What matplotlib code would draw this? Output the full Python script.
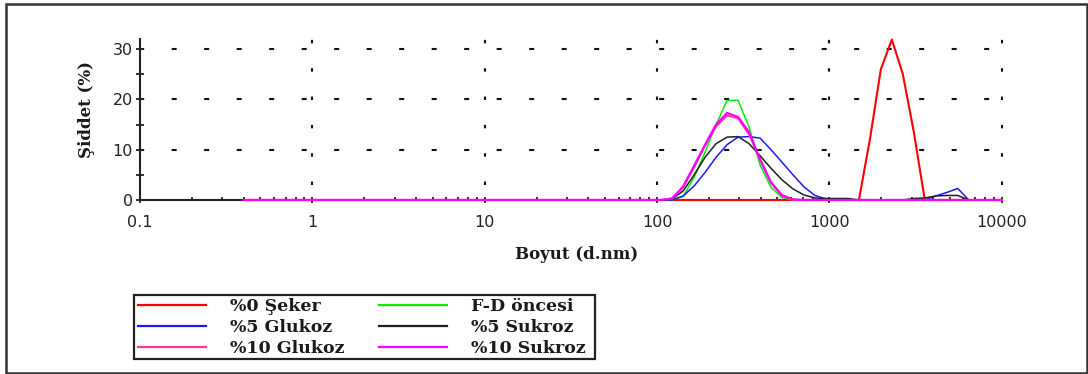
import matplotlib
matplotlib.use("Agg")
import matplotlib.pyplot as plt
from matplotlib.patches import Rectangle
from matplotlib.ticker import FixedLocator, NullFormatter

plt.rcParams['lines.scale_dashes'] = False

# Size bins (d.nm)
sizes = [0.4, 0.4632, 0.5365, 0.6213, 0.7195, 0.8332, 0.9649, 1.117, 1.294, 1.499,
         1.736, 2.01, 2.328, 2.696, 3.122, 3.615, 4.187, 4.849, 5.615, 6.503,
         7.531, 8.721, 10.1, 11.7, 13.54, 15.69, 18.17, 21.04, 24.36, 28.21,
         32.67, 37.84, 43.82, 50.75, 58.77, 68.06, 78.82, 91.28, 105.7, 122.4,
         141.8, 164.2, 190.1, 220.2, 255.0, 295.3, 342.0, 396.1, 458.7, 531.2,
         615.1, 712.4, 825.0, 955.4, 1106, 1281, 1484, 1718, 1990, 2305,
         2669, 3091, 3580, 4145, 4801, 5560, 6439, 7456, 8635, 10000]

# Intensity (%) per bin for each sample
seker_0 = [0, 0, 0, 0, 0, 0, 0, 0, 0, 0,
           0, 0, 0, 0, 0, 0, 0, 0, 0, 0,
           0, 0, 0, 0, 0, 0, 0, 0, 0, 0,
           0, 0, 0, 0, 0, 0, 0, 0, 0, 0,
           0, 0, 0, 0, 0, 0, 0, 0, 0, 0,
           0, 0, 0, 0, 0, 0, 0, 12.0, 26.0, 31.9,
           25.0, 13.5, 0, 0, 0, 0, 0, 0, 0, 0]

fd_oncesi = [0, 0, 0, 0, 0, 0, 0, 0, 0, 0,
             0, 0, 0, 0, 0, 0, 0, 0, 0, 0,
             0, 0, 0, 0, 0, 0, 0, 0, 0, 0,
             0, 0, 0, 0, 0, 0, 0, 0, 0, 0,
             0.7, 4.5, 9.5, 15.0, 19.8, 19.8, 14.5, 7.0, 2.5, 0.5,
             0, 0, 0, 0, 0, 0, 0, 0, 0, 0,
             0, 0, 0, 0, 0, 0, 0, 0, 0, 0]

glukoz_5 = [0, 0, 0, 0, 0, 0, 0, 0, 0, 0,
            0, 0, 0, 0, 0, 0, 0, 0, 0, 0,
            0, 0, 0, 0, 0, 0, 0, 0, 0, 0,
            0, 0, 0, 0, 0, 0, 0, 0, 0, 0,
            0.8, 2.8, 5.5, 8.5, 11.0, 12.5, 12.6, 12.3, 10.0, 7.5,
            5.0, 2.6, 0.9, 0.2, 0, 0, 0, 0, 0, 0,
            0, 0, 0, 0.8, 1.5, 2.3, 0, 0, 0, 0]

sukroz_5 = [0, 0, 0, 0, 0, 0, 0, 0, 0, 0,
            0, 0, 0, 0, 0, 0, 0, 0, 0, 0,
            0, 0, 0, 0, 0, 0, 0, 0, 0, 0,
            0, 0, 0, 0, 0, 0, 0, 0, 0, 0.2,
            1.8, 5.0, 8.5, 11.2, 12.5, 12.6, 11.2, 8.8, 6.3, 4.0,
            2.2, 1.0, 0.4, 0.3, 0.3, 0.3, 0, 0, 0, 0,
            0, 0.3, 0.4, 0.8, 0.9, 0.9, 0, 0, 0, 0]

glukoz_10 = [0, 0, 0, 0, 0, 0, 0, 0, 0, 0,
             0, 0, 0, 0, 0, 0, 0, 0, 0, 0,
             0, 0, 0, 0, 0, 0, 0, 0, 0, 0,
             0, 0, 0, 0, 0, 0, 0, 0, 0, 0.3,
             2.5, 6.5, 10.8, 14.6, 16.8, 16.2, 13.0, 8.2, 3.6, 1.0,
             0.1, 0, 0, 0, 0, 0, 0, 0, 0, 0,
             0, 0, 0, 0, 0, 0, 0, 0, 0, 0]

sukroz_10 = [0, 0, 0, 0, 0, 0, 0, 0, 0, 0,
             0, 0, 0, 0, 0, 0, 0, 0, 0, 0,
             0, 0, 0, 0, 0, 0, 0, 0, 0, 0,
             0, 0, 0, 0, 0, 0, 0, 0, 0, 0.3,
             2.7, 6.8, 11.0, 15.0, 17.3, 16.5, 13.5, 8.0, 3.4, 0.9,
             0.1, 0, 0, 0, 0, 0, 0, 0, 0, 0,
             0, 0, 0, 0, 0, 0, 0, 0, 0, 0]

labels = ["%0 Şeker", "F-D öncesi", "%5 Glukoz", "%5 Sukroz", "%10 Glukoz", "%10 Sukroz"]
colors = ["#ff0000", "#00ee00", "#1a1aff", "#202020", "#ff3a8c", "#ff00ff"]
widths = [1.5, 1.1, 1.1, 1.1, 1.3, 1.6]
series = [seker_0, fd_oncesi, glukoz_5, sukroz_5, glukoz_10, sukroz_10]

x_ticks = [0.1, 1, 10, 100, 1000, 10000]
x_tick_labels = ["0.1", "1", "10", "100", "1000", "10000"]
y_ticks = [0, 10, 20, 30]

W, H = 1088, 374
fig = plt.figure(figsize=(W / 100, H / 100), dpi=100)
ax = fig.add_axes([140 / W, 1 - 200 / H, (1001.7 - 140) / W, (200 - 39) / H])
ax.set_xscale('log')
ax.set_xlim(0.1, 10000)
ax.set_ylim(0, 32)

# sparse dashed grid
for yv in [10, 20, 30]:
    ax.axhline(yv, color='#111111', lw=1.5, linestyle=(24.0, (3.6, 19.8)), zorder=1)
for xv in [1, 10, 100, 1000, 10000]:
    ax.axvline(xv, color='#111111', lw=1.5, linestyle=(9.6, (2.5, 17.9)), zorder=1, clip_on=False)

handles = {}
for s, lab, c, w in zip(series, labels, colors, widths):
    ln, = ax.plot(sizes, s, color=c, lw=w, zorder=3, clip_on=False)
    handles[lab] = ln

for side in ['top', 'right']:
    ax.spines[side].set_visible(False)
for side in ['left', 'bottom']:
    ax.spines[side].set_linewidth(1.5)
    ax.spines[side].set_color('#222222')

ax.xaxis.set_major_locator(FixedLocator(x_ticks))
ax.set_xticklabels(x_tick_labels)
minor = [m * 10.0 ** e for e in range(-1, 4) for m in range(2, 10)]
ax.xaxis.set_minor_locator(FixedLocator(minor))
ax.xaxis.set_minor_formatter(NullFormatter())
ax.yaxis.set_major_locator(FixedLocator(y_ticks))
ax.yaxis.set_minor_locator(FixedLocator([5, 15, 25]))

ax.tick_params(axis='y', which='both', direction='inout', length=6, width=1.3,
               color='#222222', pad=2, labelsize=11.5, labelcolor='#222222')
ax.tick_params(axis='x', which='major', direction='inout', length=5, width=1.3,
               color='#222222', pad=8, labelsize=11.5, labelcolor='#222222')
ax.tick_params(axis='x', which='minor', direction='in', length=2.5, width=1.3,
               color='#222222')

label_font = dict(family='DejaVu Serif', weight='bold', size=12, color='#1a1a1a')
ax.set_xlabel("Boyut (d.nm)", **label_font)
ax.xaxis.set_label_coords((577 - 140) / 861.7, (200 - 246) / 161)
ax.set_ylabel("Şiddet (%)", **label_font)
ax.yaxis.set_label_coords((95 - 140) / 861.7, (200 - 109.5) / 161)

order = ["%0 Şeker", "%5 Glukoz", "%10 Glukoz", "F-D öncesi", "%5 Sukroz", "%10 Sukroz"]
leg = fig.legend([handles[k] for k in order], order, ncol=2, loc='upper left',
                 bbox_to_anchor=(138 / W, 1 - 298 / H), frameon=False,
                 borderpad=0, borderaxespad=0, handlelength=3.92, handletextpad=1.38,
                 columnspacing=2.0, labelspacing=0.24,
                 prop=dict(family='DejaVu Serif', weight='bold', size=12.5))
for t in leg.get_texts():
    t.set_color('#1a1a1a')
for lh in leg.legend_handles:
    lh.set_linewidth(1.6)

fig.add_artist(Rectangle((134 / W, 1 - 359 / H), (595 - 134) / W, (359 - 295) / H,
                         transform=fig.transFigure, fill=False, lw=1.6, ec='#222222'))
fig.add_artist(Rectangle((6 / W, 1 - 373 / H), (1087 - 6) / W, (373 - 4) / H,
                         transform=fig.transFigure, fill=False, lw=1.8, ec='#333333'))

fig.savefig("out.png", dpi=100)
